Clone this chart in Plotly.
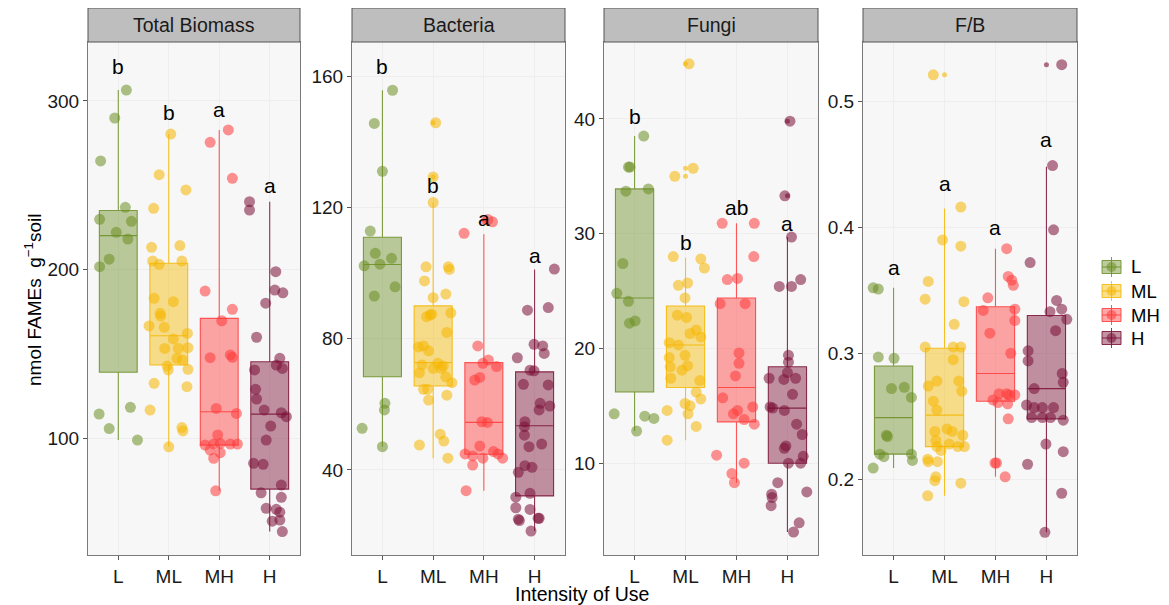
import plotly.graph_objects as go

W, H = 1169, 605
GROUPS = ["L", "ML", "MH", "H"]
COLORS = ["#6B8E23", "#F5B700", "#FF3B3B", "#7A0F35"]
PANELS = ["Total Biomass", "Bacteria", "Fungi", "F/B"]

# ---------------- Total Biomass ----------------
TB_L_Y = [306.5, 289.9, 264.4, 236.9, 229.8, 228.6, 222.1, 218.1, 206.1, 201.7, 114.2, 118.2, 105.6, 98.8]
TB_L_DX = [0.16, -0.07, -0.35, 0.14, -0.37, 0.26, -0.04, 0.19, -0.18, -0.37, -0.38, 0.24, -0.18, 0.38]
TB_ML_Y = [280.4, 256.3, 247.2, 236.3, 213.2, 214.2, 205.0, 203.1, 205.0, 182.9, 180.9, 174.0, 172.4, 166.5, 165.7, 162.1,
           158.8, 153.2, 153.2, 153.6, 147.3, 146.3, 142.7, 140.4, 140.8, 132.5, 130.5, 116.6, 106.2, 104.2, 94.8]
TB_ML_DX = [0.04, -0.19, 0.34, -0.30, -0.34, 0.22, -0.32, -0.19, 0.26, -0.29, 0.09, -0.17, -0.16, -0.39, -0.09, 0.37,
            0.09, -0.08, 0.19, 0.38, 0.16, 0.27, -0.03, -0.01, 0.38, -0.29, 0.36, -0.37, 0.26, 0.28, 0.0]
TB_MH_Y = [282.8, 275.5, 254.1, 187.2, 176.4, 169.6, 147.7, 149.3, 147.9, 117.6, 114.6, 101.8, 95.8, 96.4, 96.8, 92.9,
           91.3, 88.0, 96.4, 96.4, 68.7]
TB_MH_DX = [0.18, -0.18, 0.26, -0.28, 0.26, 0.05, -0.18, 0.22, 0.26, -0.06, 0.34, -0.03, -0.28, -0.11, 0.02, -0.18,
            0.02, -0.11, 0.22, 0.36, -0.07]
TB_H_Y = [240.2, 235.3, 198.7, 187.8, 186.2, 180.0, 159.8, 147.3, 143.3, 140.4, 141.3, 128.9, 123.1, 116.6, 115.0, 112.7,
          107.1, 98.8, 85.0, 84.4, 72.1, 67.5, 64.8, 58.3, 57.7, 56.0, 50.7, 51.3, 44.5]
TB_H_DX = [-0.40, -0.40, 0.12, 0.10, 0.26, -0.08, -0.26, 0.20, 0.13, -0.30, 0.25, -0.28, -0.26, -0.11, 0.23, 0.33,
           0.02, -0.07, -0.32, -0.13, 0.23, -0.17, 0.23, -0.07, 0.13, 0.20, 0.05, 0.20, 0.25]
TB_Q1 = [139.0, 143.3, 95.8, 69.7]
TB_MED = [220.1, 160.7, 115.6, 114.2]
TB_Q3 = [235.0, 203.7, 171.0, 145.3]
TB_LO = [98.8, 94.8, 68.7, 44.5]
TB_HI = [306.5, 280.4, 282.8, 240.2]
TB_OUT = [[], [], [], []]
TB_LET = ["b", "b", "a", "a"]
TB_LET_Y = [320.4, 293.0, 295.0, 250.0]
TB_RANGE = [30.6, 335.0]
TB_TICKS = [100, 200, 300]

# ---------------- Bacteria ----------------
BA_L_Y = [155.7, 145.6, 131.0, 112.8, 106.0, 102.2, 102.7, 104.5, 95.8, 93.0, 60.3, 58.3, 52.7, 47.1]
BA_L_DX = [0.20, -0.16, 0.0, -0.24, -0.14, -0.36, -0.05, 0.18, 0.25, -0.16, 0.05, 0.04, -0.40, 0.0]
BA_ML_Y = [145.8, 129.3, 121.5, 101.9, 101.9, 101.1, 97.6, 93.6, 92.5, 87.2, 86.7, 87.5, 87.9, 81.9, 77.5, 77.8, 76.3,
           72.5, 71.7, 72.0, 69.6, 71.0, 71.0, 68.4, 66.6, 64.6, 64.6, 61.3, 62.8, 50.9, 48.8, 47.6, 43.6]
BA_ML_DX = [0.05, 0.0, 0.0, -0.14, 0.30, 0.32, -0.17, 0.25, 0.0, -0.06, -0.13, -0.03, 0.35, 0.27, -0.29, -0.19, -0.09,
            0.09, 0.20, -0.22, -0.27, 0.0, 0.16, 0.25, 0.37, -0.19, -0.11, -0.09, 0.27, 0.14, 0.21, -0.27, 0.29]
BA_MH_Y = [115.6, 116.3, 112.1, 77.8, 72.5, 73.5, 71.5, 67.4, 68.2, 54.7, 54.5, 47.3, 44.9, 44.3, 43.6, 45.6, 44.9,
           43.6, 41.5, 33.7]
BA_MH_DX = [0.17, 0.08, -0.39, -0.12, -0.02, 0.09, 0.25, -0.18, -0.08, -0.04, 0.07, -0.08, -0.37, -0.22, -0.02, 0.19,
            0.28, 0.37, -0.22, -0.35]
BA_H_Y = [101.2, 88.7, 89.5, 78.3, 77.8, 75.5, 74.2, 70.4, 70.2, 65.9, 66.1, 60.3, 59.5, 58.3, 54.7, 53.2, 50.6, 47.9,
          47.1, 41.3, 40.8, 39.3, 32.9, 31.7, 28.5, 25.0, 24.6, 25.3, 25.3, 28.0, 21.4]
BA_H_DX = [0.39, -0.14, 0.27, -0.01, 0.16, 0.19, -0.34, -0.09, -0.01, 0.27, -0.22, 0.11, 0.30, 0.09, -0.19, -0.20,
           -0.20, 0.14, -0.11, -0.19, -0.05, -0.32, -0.09, -0.37, -0.37, -0.32, -0.30, 0.07, 0.09, -0.09, -0.07]
BA_Q1 = [68.4, 65.6, 44.8, 32.1]
BA_MED = [102.6, 72.7, 54.5, 53.5]
BA_Q3 = [110.9, 90.0, 72.7, 69.9]
BA_LO = [47.1, 43.6, 33.7, 21.4]
BA_HI = [155.7, 121.5, 111.8, 101.1]
BA_OUT = [[], [145.8, 129.3], [115.6, 116.3], []]
BA_LET = ["b", "b", "a", "a"]
BA_LET_Y = [162.8, 126.8, 116.7, 105.5]
BA_RANGE = [14.1, 170.4]
BA_TICKS = [40, 80, 120, 160]

# ---------------- Fungi ----------------
FU_L_Y = [38.5, 35.8, 35.8, 33.7, 33.9, 27.4, 24.8, 24.1, 22.2, 22.4, 14.3, 14.1, 13.9, 12.8]
FU_L_DX = [0.18, -0.12, -0.09, -0.17, 0.27, -0.23, -0.35, -0.12, -0.10, 0.01, -0.40, 0.20, 0.38, 0.04]
FU_ML_Y = [44.8, 35.7, 35.0, 28.0, 27.8, 27.0, 25.5, 25.7, 24.4, 22.9, 22.7, 21.6, 21.0, 21.3, 20.5, 20.3, 19.4, 19.2,
           18.4, 17.4, 18.1, 18.5, 17.2, 16.2, 15.6, 15.2, 15.0, 14.3, 14.6, 13.2, 12.0]
FU_ML_DX = [0.07, 0.15, -0.21, -0.24, 0.30, 0.37, -0.14, 0.04, -0.01, -0.16, 0.02, 0.21, 0.30, 0.09, -0.32, -0.14,
            -0.01, -0.32, -0.30, -0.29, -0.07, 0.04, 0.28, 0.21, 0.30, -0.01, 0.09, 0.05, -0.36, 0.21, -0.36]
FU_MH_Y = [30.9, 30.9, 28.0, 26.0, 26.1, 23.9, 23.9, 19.6, 18.7, 17.6, 15.7, 14.6, 14.3, 13.8, 14.9, 13.4, 10.7, 10.0,
           9.1, 8.3]
FU_MH_DX = [-0.28, 0.35, 0.34, -0.18, 0.02, -0.32, 0.17, 0.05, 0.05, -0.02, -0.27, 0.02, -0.06, 0.15, 0.32, 0.35,
            -0.39, 0.15, -0.09, -0.04]
FU_H_Y = [39.8, 33.3, 29.7, 26.0, 25.4, 25.4, 19.4, 18.8, 17.4, 17.3, 17.4, 17.9, 16.0, 14.9, 14.8, 14.6, 13.4, 12.5,
          11.5, 11.3, 10.6, 10.0, 10.0, 8.3, 7.3, 7.0, 6.3, 7.5, 4.8, 4.0]
FU_H_DX = [0.05, -0.05, 0.08, 0.26, -0.16, 0.08, 0.02, 0.02, -0.36, -0.07, 0.16, 0.0, 0.10, -0.34, -0.29, -0.06, 0.18,
           0.29, -0.03, -0.06, 0.31, 0.26, 0.02, -0.19, -0.31, -0.30, -0.32, 0.38, 0.23, 0.12]
FU_Q1 = [16.2, 16.6, 13.6, 10.0]
FU_MED = [24.4, 20.3, 16.6, 14.8]
FU_Q3 = [33.9, 23.7, 24.4, 18.4]
FU_LO = [12.8, 12.0, 8.3, 4.0]
FU_HI = [38.5, 27.9, 30.9, 29.7]
FU_OUT = [[], [44.8, 35.7, 35.0], [], [39.8, 33.3]]
FU_LET = ["b", "b", "ab", "a"]
FU_LET_Y = [40.2, 29.2, 32.3, 30.9]
FU_RANGE = [2.0, 46.7]
FU_TICKS = [10, 20, 30, 40]

# ---------------- F/B ----------------
FB_L_Y = [0.352, 0.351, 0.297, 0.296, 0.272, 0.273, 0.265, 0.235, 0.234, 0.220, 0.218, 0.220, 0.215, 0.209]
FB_L_DX = [-0.40, -0.30, -0.30, 0.01, -0.04, 0.21, 0.35, -0.14, -0.12, -0.27, -0.19, 0.35, 0.37, -0.40]
FB_ML_Y = [0.521, 0.416, 0.390, 0.385, 0.357, 0.343, 0.341, 0.323, 0.305, 0.305, 0.305, 0.295, 0.278, 0.278, 0.270,
           0.274, 0.262, 0.255, 0.238, 0.240, 0.238, 0.235, 0.231, 0.226, 0.223, 0.228, 0.226, 0.226, 0.216, 0.214,
           0.214, 0.202, 0.199, 0.197, 0.187]
FB_ML_DX = [-0.22, 0.32, -0.04, 0.32, -0.32, -0.38, 0.38, 0.19, -0.38, 0.17, 0.32, 0.17, -0.15, 0.28, 0.34, -0.32,
            -0.22, -0.15, -0.19, 0.05, 0.15, 0.36, -0.17, -0.15, -0.07, 0.09, 0.26, 0.39, -0.33, -0.32, -0.14, -0.17,
            -0.19, 0.32, -0.33]
FB_MH_Y = [0.383, 0.361, 0.358, 0.354, 0.344, 0.334, 0.335, 0.326, 0.316, 0.300, 0.268, 0.268, 0.267, 0.267, 0.263,
           0.261, 0.260, 0.248, 0.213, 0.213, 0.202]
FB_MH_DX = [0.22, 0.25, 0.32, 0.35, -0.15, -0.24, 0.38, 0.38, -0.11, 0.30, 0.07, 0.22, 0.27, 0.38, -0.05, 0.05, 0.24,
            0.25, -0.01, 0.02, 0.19]
FB_H_Y = [0.529, 0.449, 0.398, 0.372, 0.342, 0.335, 0.327, 0.333, 0.318, 0.302, 0.294, 0.284, 0.277, 0.272, 0.259,
          0.257, 0.257, 0.257, 0.249, 0.249, 0.249, 0.247, 0.228, 0.222, 0.212, 0.189, 0.158]
FB_H_DX = [0.30, 0.12, 0.14, -0.32, 0.20, 0.30, 0.40, 0.07, 0.18, -0.36, -0.36, 0.31, 0.33, -0.24, -0.39, -0.24,
           -0.08, 0.14, -0.29, -0.08, 0.08, 0.33, -0.01, 0.33, -0.37, 0.30, -0.03]
FB_Q1 = [0.220, 0.226, 0.262, 0.248]
FB_MED = [0.249, 0.251, 0.284, 0.272]
FB_Q3 = [0.290, 0.304, 0.337, 0.330]
FB_LO = [0.209, 0.187, 0.202, 0.158]
FB_HI = [0.352, 0.415, 0.383, 0.448]
FB_OUT = [[], [0.521], [], [0.529]]
FB_LET = ["a", "a", "a", "a"]
FB_LET_Y = [0.368, 0.435, 0.400, 0.470]
FB_RANGE = [0.140, 0.547]
FB_TICKS = [0.2, 0.3, 0.4, 0.5]

PANEL_DATA = [
    dict(ys=[TB_L_Y, TB_ML_Y, TB_MH_Y, TB_H_Y], dxs=[TB_L_DX, TB_ML_DX, TB_MH_DX, TB_H_DX],
         q1=TB_Q1, med=TB_MED, q3=TB_Q3, lo=TB_LO, hi=TB_HI, out=TB_OUT,
         let=TB_LET, lety=TB_LET_Y, rng=TB_RANGE, ticks=TB_TICKS),
    dict(ys=[BA_L_Y, BA_ML_Y, BA_MH_Y, BA_H_Y], dxs=[BA_L_DX, BA_ML_DX, BA_MH_DX, BA_H_DX],
         q1=BA_Q1, med=BA_MED, q3=BA_Q3, lo=BA_LO, hi=BA_HI, out=BA_OUT,
         let=BA_LET, lety=BA_LET_Y, rng=BA_RANGE, ticks=BA_TICKS),
    dict(ys=[FU_L_Y, FU_ML_Y, FU_MH_Y, FU_H_Y], dxs=[FU_L_DX, FU_ML_DX, FU_MH_DX, FU_H_DX],
         q1=FU_Q1, med=FU_MED, q3=FU_Q3, lo=FU_LO, hi=FU_HI, out=FU_OUT,
         let=FU_LET, lety=FU_LET_Y, rng=FU_RANGE, ticks=FU_TICKS),
    dict(ys=[FB_L_Y, FB_ML_Y, FB_MH_Y, FB_H_Y], dxs=[FB_L_DX, FB_ML_DX, FB_MH_DX, FB_H_DX],
         q1=FB_Q1, med=FB_MED, q3=FB_Q3, lo=FB_LO, hi=FB_HI, out=FB_OUT,
         let=FB_LET, lety=FB_LET_Y, rng=FB_RANGE, ticks=FB_TICKS),
]


def rgba(hexc, a):
    h = hexc.lstrip("#")
    r, g, b = int(h[0:2], 16), int(h[2:4], 16), int(h[4:6], 16)
    return f"rgba({r},{g},{b},{a})"


# the page body adds an 8px margin; convert screen pixels to figure fractions
OFF = 8


def fx(px):
    return (px - OFF) / W


def fy(py):
    return 1 - (py - OFF) / H


FONT = "Liberation Sans, Arial, sans-serif"
PX_X = [(88, 300), (352, 565), (604, 818), (863, 1077)]
PX_Y = (42, 555)
STRIP_Y = (8, 42)

fig = go.Figure()
annotations = []
shapes = []

for p, pdata in enumerate(PANEL_DATA):
    sfx = "" if p == 0 else str(p + 1)
    xa, ya = "x" + sfx, "y" + sfx
    # boxes
    for g, grp in enumerate(GROUPS):
        fig.add_trace(go.Box(
            x=[g + 1], q1=[pdata["q1"][g]], median=[pdata["med"][g]], q3=[pdata["q3"][g]],
            lowerfence=[pdata["lo"][g]], upperfence=[pdata["hi"][g]],
            width=0.75, whiskerwidth=0, boxpoints=False,
            fillcolor=rgba(COLORS[g], 0.45), line=dict(color=rgba(COLORS[g], 0.85), width=1.1),
            name=grp, legendgroup=grp, showlegend=False,
            xaxis=xa, yaxis=ya, hoverinfo="skip"))
    # outliers (small dots at centre)
    for g, grp in enumerate(GROUPS):
        if pdata["out"][g]:
            fig.add_trace(go.Scatter(
                x=[g + 1] * len(pdata["out"][g]), y=pdata["out"][g], mode="markers",
                marker=dict(size=5, color=rgba(COLORS[g], 0.6)),
                showlegend=False, xaxis=xa, yaxis=ya, hoverinfo="skip"))
    # jittered points
    for g, grp in enumerate(GROUPS):
        ys = pdata["ys"][g]
        xs = [g + 1 + d for d in pdata["dxs"][g]]
        fig.add_trace(go.Scatter(
            x=xs, y=ys, mode="markers",
            marker=dict(size=11, color=rgba(COLORS[g], 0.55), line=dict(width=0)),
            showlegend=False, legendgroup=grp, xaxis=xa, yaxis=ya, hoverinfo="skip"))
    # letters
    for g in range(4):
        annotations.append(dict(x=g + 1, y=pdata["lety"][g], xref=xa, yref=ya, text=pdata["let"][g],
                                showarrow=False, xanchor="center", yanchor="middle",
                                font=dict(size=21, color="#000000", family=FONT)))
    x0, x1 = PX_X[p]
    xdom = [fx(x0), fx(x1)]
    ydom = [fy(PX_Y[1]), fy(PX_Y[0])]
    axis_common = dict(showline=True, mirror=True, linecolor="#7a7a7a", linewidth=1,
                       ticks="outside", ticklen=4, tickcolor="#555555",
                       tickfont=dict(size=19, color="#1a1a1a", family=FONT),
                       showgrid=True, gridcolor="#EEEEEE", gridwidth=1, zeroline=False,
                       automargin=False)
    fig.layout["xaxis" + sfx] = dict(domain=xdom, anchor=ya, range=[0.4, 4.6],
                                     tickvals=[1, 2, 3, 4], ticktext=GROUPS, **axis_common)
    fig.layout["yaxis" + sfx] = dict(domain=ydom, anchor=xa, range=pdata["rng"],
                                     tickvals=pdata["ticks"], **axis_common)
    # strip
    shapes.append(dict(type="rect", xref="paper", yref="paper",
                       x0=fx(x0), x1=fx(x1), y0=fy(STRIP_Y[1]), y1=fy(STRIP_Y[0]),
                       fillcolor="#BEBEBE", line=dict(color="#555555", width=1)))
    annotations.append(dict(x=fx((x0 + x1) / 2), y=fy((STRIP_Y[0] + STRIP_Y[1]) / 2),
                            xref="paper", yref="paper", text=PANELS[p], showarrow=False,
                            xanchor="center", yanchor="middle",
                            font=dict(size=19.5, color="#1a1a1a", family=FONT)))

# legend keys (box glyph with point), drawn in page coordinates
LEG_X0, LEG_X1 = 1102, 1121
LEG_CY = [267, 291, 315, 338]
for g, grp in enumerate(GROUPS):
    cy = LEG_CY[g]
    cx = (LEG_X0 + LEG_X1) / 2
    shapes.append(dict(type="line", xref="paper", yref="paper", x0=fx(cx), x1=fx(cx),
                       y0=fy(cy + 10), y1=fy(cy - 10), line=dict(color=rgba(COLORS[g], 0.85), width=1)))
    shapes.append(dict(type="rect", xref="paper", yref="paper", x0=fx(LEG_X0), x1=fx(LEG_X1),
                       y0=fy(cy + 6.5), y1=fy(cy - 6.5), fillcolor=rgba(COLORS[g], 0.45),
                       line=dict(color=rgba(COLORS[g], 0.85), width=1)))
    shapes.append(dict(type="line", xref="paper", yref="paper", x0=fx(LEG_X0), x1=fx(LEG_X1),
                       y0=fy(cy), y1=fy(cy), line=dict(color=rgba(COLORS[g], 0.85), width=1)))
    shapes.append(dict(type="circle", xref="paper", yref="paper", x0=fx(cx - 5), x1=fx(cx + 5),
                       y0=fy(cy + 5), y1=fy(cy - 5), fillcolor=rgba(COLORS[g], 0.55),
                       line=dict(width=0)))
    annotations.append(dict(x=fx(1129), y=fy(cy), xref="paper", yref="paper", text=grp,
                            showarrow=False, xanchor="left", yanchor="middle",
                            font=dict(size=18.5, color="#000000", family=FONT)))

annotations.append(dict(x=fx(33), y=fy(300), xref="paper", yref="paper",
                        text="nmol FAMEs  g<sup>−1</sup>soil", textangle=-90, showarrow=False,
                        xanchor="center", yanchor="middle",
                        font=dict(size=19, color="#000000", family=FONT)))
annotations.append(dict(x=fx(582), y=fy(594), xref="paper", yref="paper",
                        text="Intensity of Use", showarrow=False, xanchor="center", yanchor="middle",
                        font=dict(size=19.5, color="#000000", family=FONT)))

fig.update_layout(
    width=W, height=H, margin=dict(l=0, r=0, t=0, b=0, autoexpand=False),
    paper_bgcolor="white", plot_bgcolor="#F7F7F7",
    boxmode="overlay", font=dict(family=FONT),
    showlegend=False,
    annotations=annotations, shapes=shapes,
)

fig.write_html("out.html")
